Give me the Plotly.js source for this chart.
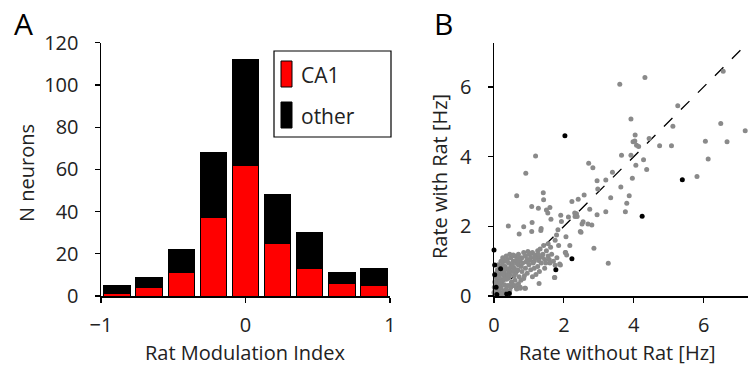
<!DOCTYPE html>
<html>
<head>
<meta charset="utf-8">
<script src="https://cdn.plot.ly/plotly-3.0.1.min.js"></script>
<style>html,body{margin:0;padding:0;background:#fff;}#chart{width:748px;height:365px;}</style>
</head>
<body>
<div id="chart"></div>
<script>
// ---- Panel A data: histogram of rat modulation index ----
const binCenters = [-0.889, -0.667, -0.444, -0.222, 0, 0.222, 0.444, 0.667, 0.889];
const ca1Counts   = [1, 4, 11, 37, 62, 25, 13, 6, 5];
const totalCounts = [5, 9, 22, 68, 112, 48, 30, 11, 13];
const otherCounts = totalCounts.map((t, i) => t - ca1Counts[i]);
const xTicksA = [-1, 0, 1];
const xTickTextA = ['\u22121', '0', '1'];
const yTicksA = [0, 20, 40, 60, 80, 100, 120];

// ---- Panel B data: firing rates without / with rat (Hz) ----
const grayX = [3.6,4.32,6.56,5.26,3.92,4.44,4.74,5.08,5.12,6.49,7.19,6.05,6.67,6.13,5.81,4.04,3.98,4.03,4.08,4.14,3.65,3.92,4.06,4.28,4.37,3.96,3.63,3.87,3.80,3.76,3.39,3.2,2.95,2.71,2.83,2.97,3.34,3.2,2.95,2.58,2.41,2.23,2.74,2.8,2.55,2.36,2.32,2.13,2.49,2.06,2.86,3.27,1.19,0.91,0.65,1.41,1.42,1.08,1.27,1.50,1.60,1.54,1.63,1.91,1.93,0.41,0.85,0.72,1.09,1.35,1.34,1.08,1.83,1.79,2.05,2.08,1.90,1.73,1.29,0.90,0.75,0.65,2.31,2.38,2.52,2.69,2.47,2.17,2.04,1.88,1.74,
  0.02,0.05,0.08,0.1,0.03,0.06,0.12,0.15,0.18,0.2,0.04,0.1,0.14,0.22,0.08,0.16,0.25,0.3,0.12,0.2,0.28,0.35,0.4,0.32,0.24,0.42,0.5,0.55,0.48,0.38,0.6,0.65,0.7,0.58,0.45,0.52,0.62,0.7,0.75,0.8,0.85,0.9,0.95,1.0,1.05,1.1,1.15,1.2,1.25,1.3,1.35,1.4,1.45,1.5,1.55,1.6,1.65,1.0,0.9,0.8,0.72,0.85,0.6,0.5,0.4,0.35,0.45,0.55,0.65,0.75,0.88,0.7,0.95,1.05,1.15,1.25,1.2,1.1,1.3,1.45,0.28,0.22,0.3,0.18,0.05,0.1,0.16,0.3,0.36,0.42,0.48,0.58,0.68,0.78,0.82,0.92,1.02,1.12,1.18,1.28,1.38,1.48,1.58,1.7,1.75,1.8,0.25,0.35,0.45,0.55,0.72,1.32,1.42,1.55,1.62,1.75,1.85,0.02,0.0,0.01,
  0.15,0.25,0.33,0.43,0.53,0.63,0.12,0.2,0.27,0.37,0.47,0.57,0.67,0.08,0.18,0.3,0.4,0.5,0.6,0.97,1.07,1.17,1.27,0.87,0.77];
const grayY = [6.08,6.27,6.45,5.46,5.08,4.52,4.31,4.31,4.87,4.95,4.74,4.44,4.43,3.93,3.43,4.62,4.43,4.45,4.33,4.29,4.04,4.04,3.75,3.91,3.63,3.38,3.13,2.88,2.66,2.42,3.55,3.33,3.31,3.81,3.68,3.07,2.82,2.42,2.33,2.9,2.78,2.71,2.49,2.04,2.13,2.36,2.28,2.27,1.83,1.70,1.37,0.94,4.02,3.52,2.88,2.96,2.76,2.57,2.52,2.47,2.54,2.38,2.20,2.32,2.14,2.01,1.99,1.78,2.11,1.94,1.88,1.85,1.90,1.75,1.25,1.18,0.89,0.53,0.36,0.22,0.22,0.22,2.38,2.28,2.07,2.07,1.85,1.45,1.25,0.92,0.53,
  0.02,0.08,0.03,0.12,0.15,0.22,0.05,0.18,0.1,0.25,0.32,0.35,0.3,0.38,0.45,0.5,0.45,0.55,0.6,0.65,0.7,0.62,0.75,0.85,0.9,0.95,0.88,1.0,1.1,1.05,1.15,1.05,1.2,0.8,0.6,0.7,0.65,0.9,1.0,1.1,1.25,1.15,1.05,1.2,1.1,1.25,1.0,1.15,1.3,1.1,0.95,1.2,1.05,1.3,1.15,0.95,1.2,0.9,0.8,0.7,0.55,0.5,0.45,0.4,0.3,0.2,0.15,0.3,0.2,0.25,0.22,0.35,0.65,0.75,0.8,0.85,0.62,0.55,0.7,0.8,0.15,0.05,0.32,0.42,0.55,0.75,0.82,1.0,0.48,0.52,0.25,0.58,0.75,0.85,0.95,0.98,1.02,0.95,1.08,1.02,1.12,0.95,1.05,1.0,0.88,1.1,1.1,1.15,1.2,1.18,1.1,1.35,1.45,1.5,1.4,1.6,1.45,0.4,0.1,0.25,
  0.55,0.68,0.8,0.72,0.9,0.98,0.9,1.0,0.6,1.0,0.82,0.75,0.92,0.68,0.4,0.48,0.58,0.38,0.3,1.28,1.22,1.18,1.2,0.58,0.45];
const blackX = [4.53,2.03,5.39,4.24,2.23,1.77,0.0,0.02,0.02,0.19,0.06,0.08,0.36,0.44];
const blackY = [7.31,4.60,3.34,2.29,1.07,0.75,1.32,0.89,0.61,0.78,0.25,0.04,0.06,0.07];
const diagEnds = [0, 7.27];
const ticksB = [0, 2, 4, 6];

const W = 748, H = 365;
const px = v => v / W, py = v => (H - v) / H;
const FONT = 'Open Sans, sans-serif';
const tickFont = {family: FONT, size: 20, color: '#222'};
const titleFont = {family: FONT, size: 20, color: '#222'};

const traces = [
  {type: 'bar', x: binCenters, y: ca1Counts, name: 'CA1', xaxis: 'x', yaxis: 'y',
   marker: {color: '#ff0000', line: {color: '#000', width: 1}}, showlegend: false},
  {type: 'bar', x: binCenters, y: otherCounts, name: 'other', xaxis: 'x', yaxis: 'y',
   marker: {color: '#000000', line: {color: '#000', width: 1}}, showlegend: false},
  {type: 'scatter', mode: 'lines', x: diagEnds, y: diagEnds, xaxis: 'x2', yaxis: 'y2',
   line: {color: '#000', width: 1.3, dash: '12px,12px'}, showlegend: false, hoverinfo: 'skip'},
  {type: 'scatter', mode: 'markers', x: grayX, y: grayY, xaxis: 'x2', yaxis: 'y2', cliponaxis: false,
   marker: {color: '#8a8a8a', size: 5}, showlegend: false},
  {type: 'scatter', mode: 'markers', x: blackX, y: blackY, xaxis: 'x2', yaxis: 'y2', cliponaxis: false,
   marker: {color: '#000', size: 5}, showlegend: false}
];

const axisCommon = {showgrid: false, zeroline: false, showline: true, linecolor: '#000', linewidth: 1.5,
  ticks: 'outside', ticklen: 5, tickwidth: 1.2, tickcolor: '#000', tickfont: tickFont, fixedrange: true};

const layout = {
  width: W, height: H,
  margin: {l: 0, r: 0, t: 0, b: 0},
  paper_bgcolor: '#fff', plot_bgcolor: '#fff',
  barmode: 'stack', bargap: 0.18,
  xaxis: Object.assign({}, axisCommon, {domain: [px(101), px(390)], range: [-1, 1],
    tickvals: xTicksA, ticktext: xTickTextA, anchor: 'y', ticklabelstandoff: 5}),
  yaxis: Object.assign({}, axisCommon, {domain: [py(296), py(42.7)], range: [0, 120],
    tickvals: yTicksA, anchor: 'x', ticklabelstandoff: 12}),
  xaxis2: Object.assign({}, axisCommon, {domain: [px(494), 1], range: [0, 7.27],
    tickvals: ticksB, anchor: 'y2', ticklabelstandoff: 5}),
  yaxis2: Object.assign({}, axisCommon, {domain: [py(296), py(42.7)], range: [0, 7.27],
    tickvals: ticksB, anchor: 'x2', ticklabelstandoff: 12}),
  shapes: [
    {type: 'rect', xref: 'paper', yref: 'paper', x0: px(274), x1: px(391), y0: py(137), y1: py(51),
     line: {color: '#000', width: 1.2}, fillcolor: 'rgba(0,0,0,0)'},
    {type: 'rect', xref: 'paper', yref: 'paper', x0: px(281), x1: px(292), y0: py(87), y1: py(61),
     line: {color: '#000', width: 1}, fillcolor: '#ff0000'},
    {type: 'rect', xref: 'paper', yref: 'paper', x0: px(281), x1: px(292), y0: py(128), y1: py(102),
     line: {color: '#000', width: 1}, fillcolor: '#000'}
  ],
  annotations: [
    {text: 'CA1', xref: 'paper', yref: 'paper', x: px(299), y: py(75), xanchor: 'left', yanchor: 'middle',
     showarrow: false, font: {family: FONT, size: 21, color: '#222'}},
    {text: 'other', xref: 'paper', yref: 'paper', x: px(299), y: py(116), xanchor: 'left', yanchor: 'middle',
     showarrow: false, font: {family: FONT, size: 21, color: '#222'}},
    {text: 'A', xref: 'paper', yref: 'paper', x: px(23), y: py(24), xanchor: 'center', yanchor: 'middle',
     showarrow: false, font: {family: FONT, size: 30, color: '#000'}},
    {text: 'B', xref: 'paper', yref: 'paper', x: px(443), y: py(24), xanchor: 'center', yanchor: 'middle',
     showarrow: false, font: {family: FONT, size: 30, color: '#000'}},
    {text: 'Rat Modulation Index', xref: 'paper', yref: 'paper', x: px(245), y: py(352), xanchor: 'center', yanchor: 'middle',
     showarrow: false, font: titleFont},
    {text: 'N neurons', xref: 'paper', yref: 'paper', x: px(26), y: py(173), xanchor: 'center', yanchor: 'middle',
     textangle: -90, showarrow: false, font: titleFont},
    {text: 'Rate without Rat [Hz]', xref: 'paper', yref: 'paper', x: px(617), y: py(352), xanchor: 'center', yanchor: 'middle',
     showarrow: false, font: titleFont},
    {text: 'Rate with Rat [Hz]', xref: 'paper', yref: 'paper', x: px(439), y: py(177), xanchor: 'center', yanchor: 'middle',
     textangle: -90, showarrow: false, font: titleFont}
  ]
};

Plotly.newPlot('chart', traces, layout, {staticPlot: true, displayModeBar: false});
</script>
</body>
</html>
